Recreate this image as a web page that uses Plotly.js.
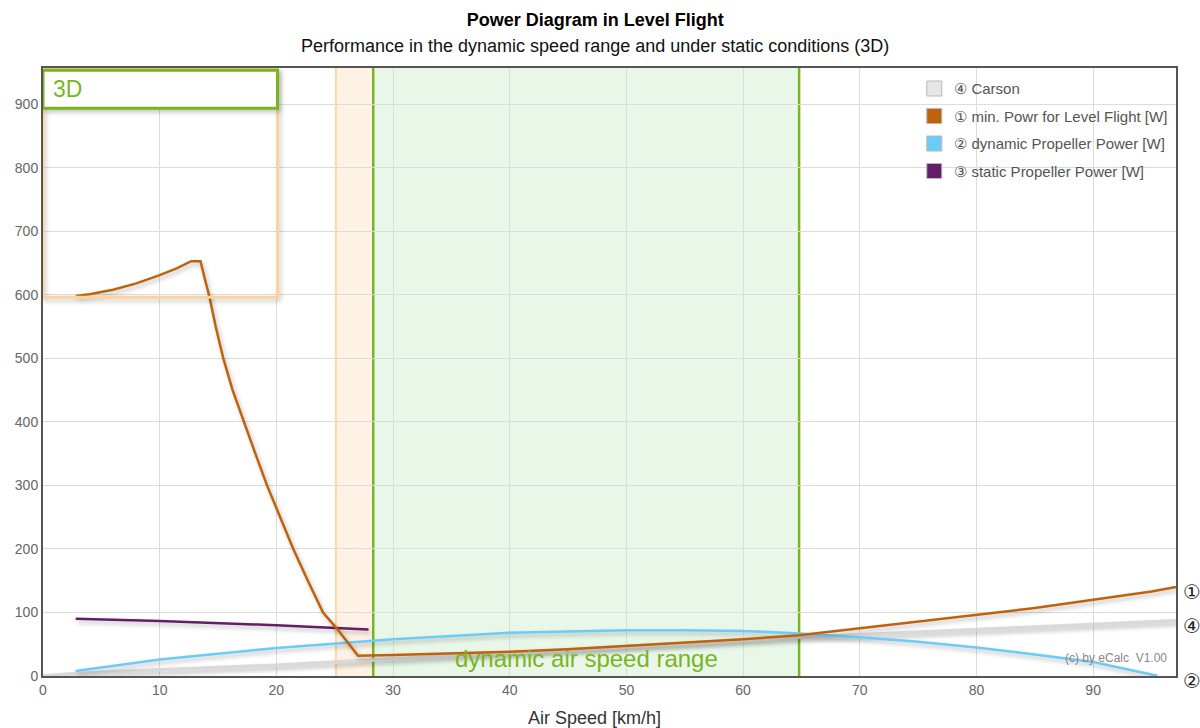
<!DOCTYPE html>
<html>
<head>
<meta charset="utf-8">
<script src="https://cdn.plot.ly/plotly-3.0.1.min.js"></script>
<style>
  html, body { margin: 0; padding: 0; background: #fff; }
  #chart { width: 1200px; height: 728px; }
  .scatterlayer path.js-line { filter: drop-shadow(2px 3px 2px rgba(0,0,0,0.25)); }
  .layer-above .shapelayer path { filter: drop-shadow(2px 3px 2px rgba(0,0,0,0.2)); }
</style>
</head>
<body>
<div id="chart"></div>
<script>
// ---- data ----
const minPowerX = [2.8, 4, 6, 8, 10, 11.5, 12.7, 13.5, 13.9, 14.25, 14.8, 15.45, 16.25, 17.2, 18.2, 19.2, 20.3, 21.45, 22.7, 24.0, 25.17, 27.0, 30, 35, 40, 45, 50, 55, 60, 64.8, 70, 75, 80, 85, 90, 95, 97.1];
const minPowerY = [598, 601, 608, 618, 631, 642, 653, 653, 623, 598, 550, 500, 450, 400, 350, 300, 250, 200, 150, 100, 75, 32, 33, 35, 38, 42, 47, 52, 58, 64, 75, 85, 96, 107, 120, 133, 140];

const dynPropX = [2.8, 10, 20, 28.3, 30, 40, 50, 55, 60, 64.8, 70, 75, 80, 85, 90, 95.5];
const dynPropY = [8, 26, 44, 56, 58, 68, 72, 72, 71, 67, 61, 54, 45, 34, 22, 0.5];

const statPropX = [2.8, 10, 20, 25, 27.9];
const statPropY = [90, 86.5, 80, 76, 73];

const carsonX = [0, 2.8, 10, 20, 27, 30, 40, 50, 60, 64.8, 70, 80, 90, 97.1];
const carsonY = [0, 4, 10, 17, 24, 27, 37, 47, 56, 61, 65, 73, 81, 87];

const seriesNames = ['\u2463 Carson', '\u2460 min. Powr for Level Flight [W]', '\u2461 dynamic Propeller Power [W]', '\u2462 static Propeller Power [W]'];

const staticRange = [25.1, 28.3];   // km/h
const dynamicRange = [28.3, 64.8];  // km/h
const boxRange = [0, 20.1];
const boxPower = [596, 957];
const headerPower = [893.6, 953.4];
const xMax = 97.1;
const yMax = 957;

// ---- styling ----
const cOrange = '#c0620c', cBlue = '#6ccbf7', cPurple = '#641d68', cGray = '#d9d9d9';
const cGreen = '#7ab51d';
const FONT = 'Arial, "Liberation Sans", sans-serif';

const lineTraces = [
  {x: carsonX, y: carsonY, mode: 'lines', line: {color: cGray, width: 3.5}, showlegend: false, hoverinfo: 'skip'},
  {x: statPropX, y: statPropY, mode: 'lines', line: {color: cPurple, width: 2.5}, showlegend: false},
  {x: dynPropX, y: dynPropY, mode: 'lines', line: {color: cBlue, width: 2.5}, showlegend: false},
  {x: minPowerX, y: minPowerY, mode: 'lines', line: {color: cOrange, width: 2.5}, showlegend: false}
];
const legendColors = ['#e6e6e6', cOrange, cBlue, cPurple];
const legendTraces = seriesNames.map((n, i) => ({
  x: [null], y: [null], mode: 'markers', name: n, legendgroup: 'g' + i,
  marker: {symbol: 'square', size: 15, color: legendColors[i], line: {color: '#b8b8b8', width: 1}}
}));

const shapes = [
  {type: 'rect', xref: 'x', yref: 'paper', x0: staticRange[0], x1: staticRange[1], y0: 0, y1: 1, fillcolor: '#fdf2e4', line: {width: 0}, layer: 'below'},
  {type: 'line', xref: 'x', yref: 'paper', x0: staticRange[0], x1: staticRange[0], y0: 0, y1: 1, line: {color: '#fdd7a5', width: 2}, layer: 'below'},
  {type: 'rect', xref: 'x', yref: 'paper', x0: dynamicRange[0], x1: dynamicRange[1], y0: 0, y1: 1, fillcolor: '#e9f7e9', line: {width: 0}, layer: 'below'},
  {type: 'line', xref: 'x', yref: 'paper', x0: dynamicRange[0], x1: dynamicRange[0], y0: 0, y1: 1, line: {color: cGreen, width: 2.5}, layer: 'below'},
  {type: 'line', xref: 'x', yref: 'paper', x0: dynamicRange[1], x1: dynamicRange[1], y0: 0, y1: 1, line: {color: cGreen, width: 2.5}, layer: 'below'},
  {type: 'rect', xref: 'x', yref: 'y', x0: boxRange[0], x1: boxRange[1], y0: boxPower[0], y1: boxPower[1], line: {color: '#fdd39c', width: 3}, layer: 'above'},
  {type: 'rect', xref: 'x', yref: 'y', x0: boxRange[0], x1: boxRange[1], y0: headerPower[0], y1: headerPower[1], fillcolor: '#ffffff', line: {color: cGreen, width: 3}, layer: 'above'}
];

const endLabel = (txt, y) => ({xref: 'paper', yref: 'y', x: 1, y: y, xshift: 16, yshift: -5, text: txt, showarrow: false,
  font: {family: '"DejaVu Sans", sans-serif', size: 20, color: '#222'}, xanchor: 'center', yanchor: 'middle'});

const annotations = [
  {xref: 'paper', yref: 'paper', x: 0.487, y: 1.036, text: 'Performance in the dynamic speed range and under static conditions (3D)', showarrow: false,
   font: {family: FONT, size: 18, color: '#111'}, xanchor: 'center', yanchor: 'middle'},
  {xref: 'paper', yref: 'paper', x: 0.487, y: -0.069, text: 'Air Speed [km/h]', showarrow: false,
   font: {family: FONT, size: 18, color: '#333'}, xanchor: 'center', yanchor: 'middle'},
  {xref: 'x', yref: 'y', x: (dynamicRange[0] + dynamicRange[1]) / 2, y: 28, text: 'dynamic air speed range', showarrow: false,
   font: {family: FONT, size: 24, color: cGreen}, xanchor: 'center', yanchor: 'middle'},
  {xref: 'x', yref: 'y', x: 0, y: (headerPower[0] + headerPower[1]) / 2, xshift: 8, text: '3D', showarrow: false,
   font: {family: FONT, size: 23, color: cGreen}, xanchor: 'left', yanchor: 'middle'},
  {xref: 'x', yref: 'y', x: xMax, y: 28, xshift: -7, text: '(c) by eCalc  V1.00', showarrow: false,
   font: {family: FONT, size: 12, color: '#888'}, xanchor: 'right', yanchor: 'middle'},
  endLabel('\u2460', minPowerY[minPowerY.length - 1]),
  endLabel('\u2463', carsonY[carsonY.length - 1]),
  endLabel('\u2461', dynPropY[dynPropY.length - 1])
];

const layout = {
  width: 1200, height: 728,
  margin: {l: 43, r: 24, t: 68, b: 52, pad: 0},
  paper_bgcolor: '#fff', plot_bgcolor: '#fff',
  font: {family: FONT, color: '#666'},
  title: {text: '<b>Power Diagram in Level Flight</b>', x: 0.496, xref: 'container', y: 1 - 20 / 728, yref: 'container', yanchor: 'middle',
          font: {family: FONT, size: 18, color: '#000'}},
  xaxis: {range: [0, xMax], dtick: 10, tick0: 0, showgrid: true, gridcolor: '#dcdcdc', gridwidth: 1,
          showline: true, linecolor: '#555', linewidth: 2, mirror: true, zeroline: false, ticks: '',
          tickfont: {size: 14, color: '#666'}},
  yaxis: {range: [0, yMax], dtick: 100, tick0: 0, showgrid: true, gridcolor: '#dcdcdc', gridwidth: 1,
          showline: true, linecolor: '#555', linewidth: 2, mirror: true, zeroline: false, ticks: '',
          tickfont: {size: 14, color: '#666'}},
  legend: {x: 0.769, y: 0.993, xanchor: 'left', yanchor: 'top', bgcolor: 'rgba(0,0,0,0)',
           font: {size: 15, color: '#555'}, tracegroupgap: 5, itemwidth: 30},
  shapes: shapes,
  annotations: annotations,
  showlegend: true
};

Plotly.newPlot('chart', lineTraces.concat(legendTraces), layout, {displayModeBar: false, staticPlot: true});
</script>
</body>
</html>
